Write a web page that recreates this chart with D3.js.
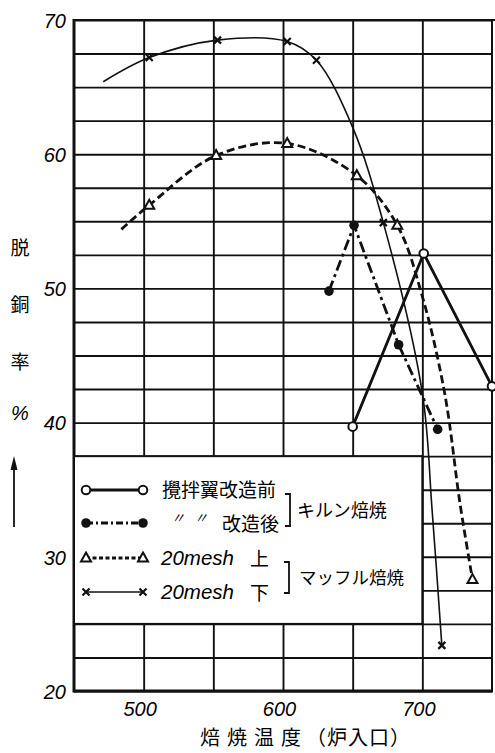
<!DOCTYPE html>
<html>
<head>
<meta charset="utf-8">
<script src="https://cdn.jsdelivr.net/npm/d3@7/dist/d3.min.js"></script>
<style>
  body { margin: 0; background: #fff; }
  svg { display: block; background: #fff; }
  .tick-num { font-family: "Liberation Sans", "DejaVu Sans", sans-serif; font-style: italic; font-size: 20px; fill: #000; }
  .jp { font-family: "Noto Sans CJK JP", sans-serif; fill: #000; }
</style>
</head>
<body>
<svg id="chart"></svg>
<script>
/////////////////////////////////////////////////////////////////////////////////////////
// DATA - temp (炉入口 °C), rate (脱銅率 %), mark = marker drawn

var yTicks = [20, 30, 40, 50, 60, 70];
var xTicks = [500, 600, 700];

// 攪拌翼改造前 (キルン焙焼)
var kilnBeforeTemp = [650, 701, 750];
var kilnBeforeRate = [39.7, 52.6, 42.7];
var kilnBeforeMark = [1, 1, 1];

// 〃〃 改造後 (キルン焙焼)
var kilnAfterTemp = [633, 651, 683, 711];
var kilnAfterRate = [49.8, 54.7, 45.8, 39.5];
var kilnAfterMark = [1, 1, 1, 1];

// 20mesh 上 (マッフル焙焼)
var meshUpperTemp = [484, 504, 552, 603, 653, 682, 700, 716, 727, 736];
var meshUpperRate = [54.4, 56.2, 59.9, 60.8, 58.4, 54.7, 49.4, 42.2, 34.0, 28.3];
var meshUpperMark = [0, 1, 1, 1, 1, 1, 0, 0, 0, 1];

// 20mesh 下 (マッフル焙焼)
var meshLowerTemp = [471, 504, 553, 603, 624, 650, 672, 700, 707, 714];
var meshLowerRate = [65.4, 67.2, 68.5, 68.4, 67.0, 62.0, 54.9, 42.2, 33.5, 23.4];
var meshLowerMark = [0, 1, 1, 1, 1, 0, 1, 0, 0, 1];

/////////////////////////////////////////////////////////////////////////////////////////

var WIDTH = 495, HEIGHT = 753;
var PLOT_LEFT = 74, PLOT_RIGHT = 492, PLOT_TOP = 20, PLOT_BOTTOM = 691;

var svg = d3.select('#chart').attr('width', WIDTH).attr('height', HEIGHT);

var x = d3.scaleLinear().domain([450, 750]).range([PLOT_LEFT, PLOT_RIGHT]);
var y = d3.scaleLinear().domain([20, 70]).range([PLOT_BOTTOM, PLOT_TOP]);

function zip(t, r, m) {
    return t.map(function (d, i) { return { t: d, r: r[i], m: m[i] }; });
}

var series = [
    { key: 'before', pts: zip(kilnBeforeTemp, kilnBeforeRate, kilnBeforeMark), curve: d3.curveLinear, width: 2.8, dash: null, marker: 'open' },
    { key: 'after', pts: zip(kilnAfterTemp, kilnAfterRate, kilnAfterMark), curve: d3.curveLinear, width: 2.8, dash: '11,4,3,4', marker: 'filled' },
    { key: 'upper', pts: zip(meshUpperTemp, meshUpperRate, meshUpperMark), curve: d3.curveCatmullRom, width: 2.8, dash: '8,4', marker: 'tri' },
    { key: 'lower', pts: zip(meshLowerTemp, meshLowerRate, meshLowerMark), curve: d3.curveCatmullRom, width: 1.6, dash: null, marker: 'cross' }
];

// GRID ///////////////////////////////////////////////////////////////////////////////

var grid = svg.append('g');

// horizontal lines every 2.5 %
grid.append('g')
    .attr('transform', 'translate(' + PLOT_LEFT + ',0)')
    .call(d3.axisLeft(y).tickValues(d3.range(20, 70.01, 2.5)).tickSize(-(PLOT_RIGHT - PLOT_LEFT)).tickFormat(''))
    .call(function (g) { g.select('.domain').remove(); })
    .selectAll('line').attr('stroke', '#111').attr('stroke-width', 1.9);

// vertical lines every 50 °C
grid.append('g')
    .attr('transform', 'translate(0,' + PLOT_BOTTOM + ')')
    .call(d3.axisBottom(x).tickValues(d3.range(500, 701, 50)).tickSize(-(PLOT_BOTTOM - PLOT_TOP)).tickFormat(''))
    .call(function (g) { g.select('.domain').remove(); })
    .selectAll('line').attr('stroke', '#111').attr('stroke-width', 1.9);

// frame
svg.append('line').attr('x1', PLOT_LEFT).attr('x2', PLOT_LEFT).attr('y1', PLOT_TOP - 1).attr('y2', PLOT_BOTTOM + 1.5)
    .attr('stroke', '#111').attr('stroke-width', 3);
svg.append('line').attr('x1', PLOT_LEFT).attr('x2', PLOT_RIGHT + 1).attr('y1', PLOT_BOTTOM).attr('y2', PLOT_BOTTOM)
    .attr('stroke', '#111').attr('stroke-width', 3);
svg.append('line').attr('x1', PLOT_LEFT).attr('x2', PLOT_RIGHT + 3).attr('y1', PLOT_TOP).attr('y2', PLOT_TOP)
    .attr('stroke', '#111').attr('stroke-width', 2.2);
svg.append('line').attr('x1', PLOT_RIGHT).attr('x2', PLOT_RIGHT).attr('y1', PLOT_TOP).attr('y2', PLOT_BOTTOM)
    .attr('stroke', '#111').attr('stroke-width', 2);

// legend box sits on the grid, blanking the cells under it
svg.append('rect')
    .attr('x', x(450)).attr('y', y(37.5))
    .attr('width', x(700) - x(450)).attr('height', y(25) - y(37.5))
    .attr('fill', '#fff').attr('stroke', '#111').attr('stroke-width', 2);

// AXIS LABELS ////////////////////////////////////////////////////////////////////////

var yAxis = svg.append('g')
    .attr('transform', 'translate(' + (PLOT_LEFT - 8) + ',0)')
    .call(d3.axisLeft(y).tickValues(yTicks).tickSize(0).tickPadding(0));
yAxis.select('.domain').remove();
yAxis.selectAll('text').attr('class', 'tick-num').attr('dy', '0.36em');

var xAxis = svg.append('g')
    .attr('transform', 'translate(-4,' + (PLOT_BOTTOM + 11) + ')')
    .call(d3.axisBottom(x).tickValues(xTicks).tickSize(0).tickPadding(0));
xAxis.select('.domain').remove();
xAxis.selectAll('text').attr('class', 'tick-num').attr('dy', '0.72em');

// x title - wide spaced main words, tighter bracket part
svg.append('text').attr('class', 'jp')
    .attr('x', 200).attr('y', 745)
    .style('font-size', '20px')
    .style('letter-spacing', '7px')
    .text('焙焼温度');
svg.append('text').attr('class', 'jp')
    .attr('x', 306).attr('y', 745)
    .style('font-size', '20px')
    .style('letter-spacing', '1px')
    .text('（炉入口）');

// y title, one glyph per row
var yTitle = ['脱', '銅', '率'];
svg.append('g').selectAll('text')
    .data(yTitle).enter().append('text')
    .attr('class', 'jp')
    .attr('x', 20).attr('y', function (d, i) { return 255 + i * 57; })
    .attr('text-anchor', 'middle')
    .style('font-size', '19px')
    .text(function (d) { return d; });
svg.append('text').attr('class', 'tick-num')
    .attr('x', 20).attr('y', 420).attr('text-anchor', 'middle')
    .style('font-size', '20px').text('%');

// upward arrow under the title
svg.append('line').attr('x1', 14).attr('x2', 14).attr('y1', 527).attr('y2', 466)
    .attr('stroke', '#111').attr('stroke-width', 1.8);
svg.append('path').attr('d', 'M14,456 L10.5,470 L17.5,470 Z').attr('fill', '#111');

// MARKERS ////////////////////////////////////////////////////////////////////////////

function drawMarker(g, type, cx, cy) {
    if (type === 'open') {
        g.append('circle').attr('cx', cx).attr('cy', cy).attr('r', 4.3)
            .attr('fill', '#fff').attr('stroke', '#111').attr('stroke-width', 2);
    } else if (type === 'filled') {
        g.append('circle').attr('cx', cx).attr('cy', cy).attr('r', 4.8).attr('fill', '#111');
    } else if (type === 'tri') {
        g.append('path')
            .attr('d', 'M' + cx + ',' + (cy - 5.5) + ' L' + (cx + 5) + ',' + (cy + 3.5) + ' L' + (cx - 5) + ',' + (cy + 3.5) + ' Z')
            .attr('fill', '#fff').attr('stroke', '#111').attr('stroke-width', 2);
    } else {
        g.append('path')
            .attr('d', 'M' + (cx - 3.5) + ',' + (cy - 3.5) + ' L' + (cx + 3.5) + ',' + (cy + 3.5) +
                ' M' + (cx + 3.5) + ',' + (cy - 3.5) + ' L' + (cx - 3.5) + ',' + (cy + 3.5))
            .attr('stroke', '#111').attr('stroke-width', 2.2);
    }
}

// DATA LINES /////////////////////////////////////////////////////////////////////////

var plot = svg.append('g');

series.forEach(function (s) {
    var line = d3.line()
        .x(function (d) { return x(d.t); })
        .y(function (d) { return y(d.r); })
        .curve(s.curve);
    plot.append('path')
        .datum(s.pts)
        .attr('d', line)
        .attr('fill', 'none')
        .attr('stroke', '#111')
        .attr('stroke-width', s.width)
        .attr('stroke-dasharray', s.dash);
});

series.forEach(function (s) {
    s.pts.filter(function (d) { return d.m; }).forEach(function (d) {
        drawMarker(plot, s.marker, x(d.t), y(d.r));
    });
});

// LEGEND /////////////////////////////////////////////////////////////////////////////

var legendRows = [
    { s: series[0], y: 490, label: '攪拌翼改造前' },
    { s: series[1], y: 523, label: '改造後' },
    { s: series[2], y: 558, label: '上' },
    { s: series[3], y: 592, label: '下' }
];

var legend = svg.append('g');

legendRows.forEach(function (row) {
    legend.append('line')
        .attr('x1', 86).attr('x2', 143).attr('y1', row.y).attr('y2', row.y)
        .attr('stroke', '#111')
        .attr('stroke-width', row.s.key === 'lower' ? 1.6 : 3)
        .attr('stroke-dasharray', row.s.key === 'upper' ? '4,2.5' : (row.s.key === 'after' ? '7,3,2,3' : null));
    drawMarker(legend, row.s.marker, 86, row.y);
    drawMarker(legend, row.s.marker, 143, row.y);
});

legend.append('text').attr('class', 'jp')
    .attr('x', 162).attr('y', 490).attr('dy', '0.36em')
    .style('font-size', '19px').text(legendRows[0].label);

legend.append('text').attr('class', 'jp')
    .attr('x', 171).attr('y', 518).attr('dy', '0.36em')
    .style('font-size', '14px').style('font-style', 'italic').text('〃');
legend.append('text').attr('class', 'jp')
    .attr('x', 194).attr('y', 518).attr('dy', '0.36em')
    .style('font-size', '14px').style('font-style', 'italic').text('〃');
legend.append('text').attr('class', 'jp')
    .attr('x', 222).attr('y', 524).attr('dy', '0.36em')
    .style('font-size', '19px').text(legendRows[1].label);

[2, 3].forEach(function (i) {
    legend.append('text').attr('class', 'tick-num')
        .attr('x', 161).attr('y', legendRows[i].y).attr('dy', '0.36em')
        .style('font-size', '20.5px').text('20mesh');
    legend.append('text').attr('class', 'jp')
        .attr('x', 250).attr('y', legendRows[i].y + 1).attr('dy', '0.36em')
        .style('font-size', '19px').text(legendRows[i].label);
});

// brackets
function bracket(xb, y1, y2) {
    legend.append('path')
        .attr('d', 'M' + (xb - 5) + ',' + y1 + ' L' + xb + ',' + y1 + ' L' + xb + ',' + y2 + ' L' + (xb - 5) + ',' + y2)
        .attr('fill', 'none').attr('stroke', '#111').attr('stroke-width', 1.8);
}
bracket(290, 494, 526);
bracket(289, 562, 593);

legend.append('text').attr('class', 'jp')
    .attr('x', 297).attr('y', 511).attr('dy', '0.36em')
    .style('font-size', '18px').text('キルン焙焼');
legend.append('text').attr('class', 'jp')
    .attr('x', 299).attr('y', 578).attr('dy', '0.36em')
    .style('font-size', '17.5px').text('マッフル焙焼');
</script>
</body>
</html>
